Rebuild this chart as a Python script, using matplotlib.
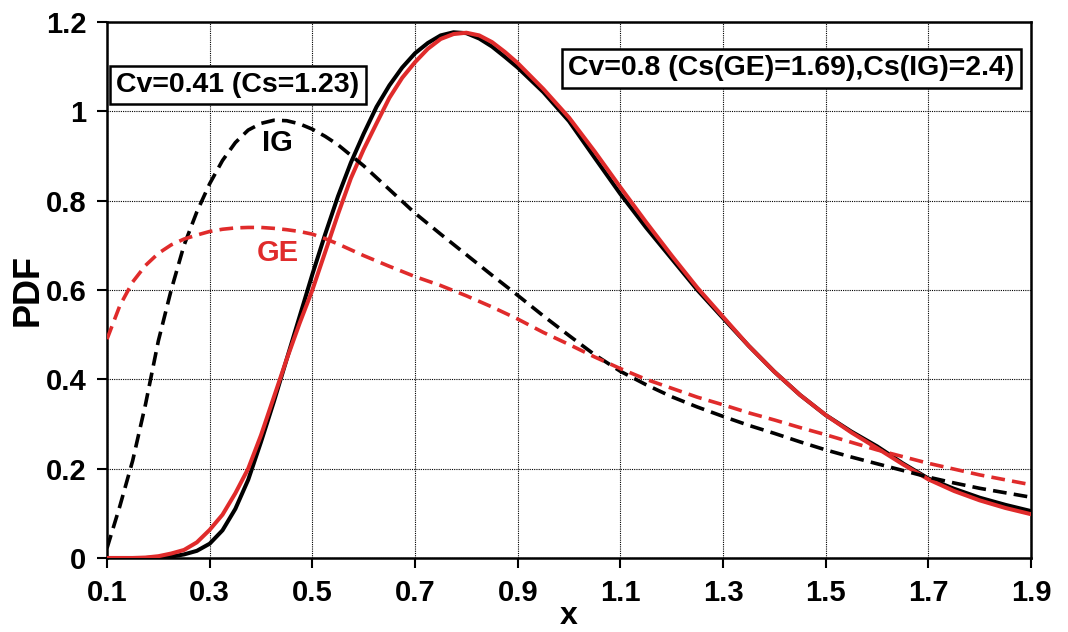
import matplotlib
matplotlib.use("Agg")
import matplotlib.pyplot as plt
import numpy as np

plt.rcParams['font.family'] = ['Liberation Sans', 'DejaVu Sans']
plt.rcParams['font.weight'] = 'bold'

# ---- data ----
# solid curves, Cv=0.8
x_solid = [0.1, 0.15, 0.175, 0.2, 0.225, 0.25, 0.275, 0.3, 0.325, 0.35, 0.375,
           0.4, 0.425, 0.45, 0.475, 0.5, 0.525, 0.55, 0.575, 0.6, 0.625,
           0.65, 0.675, 0.7, 0.725, 0.75, 0.775, 0.8, 0.825, 0.85, 0.875,
           0.9, 0.95, 1.0, 1.05, 1.1, 1.15, 1.2, 1.25, 1.3, 1.35, 1.4,
           1.45, 1.5, 1.55, 1.6, 1.65, 1.7, 1.75, 1.8, 1.85, 1.9]
ig_08 = [0.0, 0.0, 0.0, 0.001, 0.003, 0.008, 0.016, 0.032, 0.062, 0.11, 0.175,
         0.26, 0.35, 0.445, 0.54, 0.635, 0.725, 0.81, 0.885, 0.95, 1.01,
         1.058, 1.098, 1.13, 1.153, 1.17, 1.177, 1.175, 1.163, 1.145, 1.122,
         1.098, 1.043, 0.978, 0.896, 0.815, 0.74, 0.67, 0.60, 0.537, 0.475, 0.417,
         0.365, 0.32, 0.283, 0.25, 0.212, 0.178, 0.155, 0.135, 0.119, 0.105]
ge_08 = [0.0, 0.0, 0.001, 0.004, 0.01, 0.018, 0.035, 0.063, 0.097, 0.145, 0.20,
         0.275, 0.36, 0.445, 0.525, 0.60, 0.685, 0.77, 0.85, 0.915, 0.973,
         1.03, 1.075, 1.11, 1.14, 1.162, 1.173, 1.176, 1.17, 1.155, 1.133,
         1.108, 1.05, 0.986, 0.91, 0.83, 0.752, 0.677, 0.605, 0.54, 0.475, 0.417,
         0.365, 0.32, 0.281, 0.246, 0.21, 0.176, 0.15, 0.129, 0.112, 0.098]

# dashed curves, Cv=0.41
x_dash = [0.1, 0.125, 0.15, 0.175, 0.2, 0.225, 0.25, 0.275, 0.3, 0.325, 0.35,
          0.375, 0.4, 0.425, 0.45, 0.475, 0.5, 0.525, 0.55, 0.6, 0.65, 0.7, 0.75, 0.8,
          0.85, 0.9, 0.95, 1.0, 1.05, 1.1, 1.15, 1.2, 1.25, 1.3, 1.35, 1.4,
          1.45, 1.5, 1.55, 1.6, 1.65, 1.7, 1.75, 1.8, 1.85, 1.9]
ig_041 = [0.022, 0.116, 0.218, 0.344, 0.486, 0.60, 0.70, 0.775, 0.838, 0.89, 0.93,
          0.958, 0.973, 0.98, 0.979, 0.972, 0.96, 0.944, 0.925, 0.878, 0.825, 0.772, 0.725, 0.679,
          0.633, 0.588, 0.542, 0.498, 0.455, 0.418, 0.388, 0.361, 0.338, 0.317, 0.297, 0.279,
          0.26, 0.242, 0.226, 0.211, 0.196, 0.181, 0.168, 0.156, 0.146, 0.136]
ge_041 = [0.49, 0.565, 0.618, 0.655, 0.682, 0.701, 0.714, 0.723, 0.731, 0.736, 0.739,
          0.740, 0.740, 0.738, 0.735, 0.731, 0.725, 0.715, 0.703, 0.677, 0.653, 0.63, 0.61, 0.587,
          0.562, 0.535, 0.505, 0.478, 0.45, 0.424, 0.40, 0.38, 0.36, 0.343, 0.325, 0.309,
          0.292, 0.276, 0.259, 0.242, 0.227, 0.212, 0.199, 0.186, 0.175, 0.164]

xticks = [0.1, 0.3, 0.5, 0.7, 0.9, 1.1, 1.3, 1.5, 1.7, 1.9]
yticks = [0, 0.2, 0.4, 0.6, 0.8, 1, 1.2]
ytick_labels = ['0', '0.2', '0.4', '0.6', '0.8', '1', '1.2']

red = '#e02b2b'

fig = plt.figure(figsize=(10.68, 6.32), dpi=100)
ax = fig.add_axes([0.1002, 0.1171, 0.8652, 0.8481])

ax.plot(x_solid, ig_08, color='black', lw=2.9, solid_capstyle='round', zorder=3)
ax.plot(x_solid, ge_08, color=red, lw=2.9, solid_capstyle='round', zorder=4)
ax.plot(x_dash, ig_041, color='black', lw=2.6, linestyle=(0, (3.8, 2.0)), zorder=5)
ax.plot(x_dash, ge_041, color=red, lw=2.6, linestyle=(0, (3.8, 2.0)), zorder=5)

ax.set_xlim(0.1, 1.9)
ax.set_ylim(0, 1.2)
ax.set_xticks(xticks)
ax.set_xticklabels([f'{t:.1f}' for t in xticks])
ax.set_yticks(yticks)
ax.set_yticklabels(ytick_labels)
ax.tick_params(axis='both', direction='out', length=7, width=1.5, labelsize=21, pad=8)
for s in ax.spines.values():
    s.set_linewidth(1.8)

ax.grid(True, color='black', linestyle=(0, (1, 1)), linewidth=0.8)
ax.set_axisbelow(True)

ax.set_ylabel('PDF', fontsize=26, fontweight='bold', labelpad=0)
ax.set_xlabel('x', fontsize=23, fontweight='bold', labelpad=-4)

ax.text(0.118, 1.059, 'Cv=0.41 (Cs=1.23)', fontsize=20.5, fontweight='bold',
        ha='left', va='center', zorder=6,
        bbox=dict(boxstyle='square,pad=0.22', fc='white', ec='black', lw=1.8))
ax.text(0.998, 1.096, 'Cv=0.8 (Cs(GE)=1.69),Cs(IG)=2.4)', fontsize=20.5, fontweight='bold',
        ha='left', va='center', zorder=6,
        bbox=dict(boxstyle='square,pad=0.22', fc='white', ec='black', lw=1.8))

ax.text(0.431, 0.929, 'IG', fontsize=21, fontweight='bold', color='black',
        ha='center', va='center', zorder=6)
ax.text(0.433, 0.683, 'GE', fontsize=21, fontweight='bold', color=red,
        ha='center', va='center', zorder=6)

fig.savefig('out.png', dpi=100)
